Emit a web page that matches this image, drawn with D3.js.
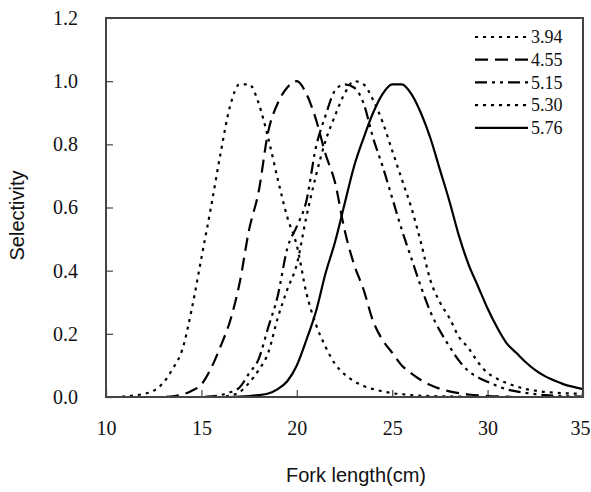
<!DOCTYPE html>
<html>
<head>
<meta charset="utf-8">
<script src="https://cdn.jsdelivr.net/npm/d3@7"></script>
<style>
  body { margin: 0; background: #fff; }
</style>
</head>
<body>
<div id="chart"></div>
<script>
// fork length (cm), 0.5 cm steps from 10 to 35
const lengths = d3.range(10, 35.01, 0.5);

const meshSizes = ['3.94', '4.55', '5.15', '5.30', '5.76'];

const sel394 = [0, 0, 0.002, 0.005, 0.01, 0.02, 0.045, 0.09, 0.15, 0.28,
  0.44, 0.6, 0.77, 0.92, 0.99, 0.99, 0.93, 0.82, 0.69, 0.57,
  0.48, 0.33, 0.23, 0.16, 0.105, 0.072, 0.05, 0.035, 0.025, 0.018,
  0.012, 0.009, 0.006, 0.004, 0.003, 0.002, 0.002, 0.001, 0.001, 0,
  0, 0, 0, 0, 0, 0, 0, 0, 0, 0, 0];
const sel455 = [0, 0, 0, 0, 0, 0, 0, 0.002, 0.008, 0.02,
  0.04, 0.09, 0.16, 0.24, 0.36, 0.53, 0.65, 0.84, 0.93, 0.98,
  1.0, 0.96, 0.88, 0.77, 0.68, 0.53, 0.42, 0.34, 0.24, 0.18,
  0.14, 0.1, 0.075, 0.054, 0.038, 0.026, 0.018, 0.012, 0.008, 0.005,
  0.003, 0.002, 0.001, 0, 0, 0, 0, 0, 0, 0, 0];
const sel515 = [0, 0, 0, 0, 0, 0, 0, 0, 0, 0,
  0, 0.002, 0.006, 0.015, 0.03, 0.075, 0.12, 0.22, 0.32, 0.47,
  0.54, 0.62, 0.79, 0.89, 0.97, 0.99, 0.98, 0.93, 0.82, 0.73,
  0.63, 0.53, 0.44, 0.35, 0.27, 0.21, 0.16, 0.115, 0.082, 0.062,
  0.048, 0.035, 0.024, 0.018, 0.013, 0.009, 0.006, 0.004, 0.003, 0.002, 0.001];
const sel530 = [0, 0, 0, 0, 0, 0, 0, 0, 0, 0,
  0, 0, 0, 0.005, 0.015, 0.045, 0.085, 0.14, 0.25, 0.34,
  0.42, 0.57, 0.7, 0.81, 0.89, 0.96, 1.0, 0.99, 0.94, 0.87,
  0.78, 0.69, 0.6, 0.49, 0.37, 0.3, 0.25, 0.19, 0.155, 0.11,
  0.076, 0.058, 0.044, 0.034, 0.025, 0.02, 0.016, 0.014, 0.012, 0.011, 0.01];
const sel576 = [0, 0, 0, 0, 0, 0, 0, 0, 0, 0,
  0, 0, 0, 0, 0.001, 0.003, 0.006, 0.011, 0.025, 0.05,
  0.1, 0.18, 0.27, 0.39, 0.49, 0.61, 0.73, 0.82, 0.9, 0.96,
  0.99, 0.99, 0.96, 0.9, 0.82, 0.72, 0.62, 0.51, 0.42, 0.35,
  0.28, 0.22, 0.17, 0.14, 0.11, 0.085, 0.066, 0.052, 0.04, 0.032, 0.025];

const xTicks = [10, 15, 20, 25, 30, 35];
const yTicks = [0, 0.2, 0.4, 0.6, 0.8, 1.0, 1.2];

const series = [sel394, sel455, sel515, sel530, sel576];
// dash pattern for each mesh size
const dashes = ['3,5', '13,7', '12,5,3,5,3,5', '3,5', null];

const serif = '"Liberation Serif", "Times New Roman", "DejaVu Serif", "Noto Serif", serif',
      sans = '"Liberation Sans", Arial, sans-serif';

const margin = {top: 18, right: 8, bottom: 95, left: 106},
      width = 591 - margin.left - margin.right,
      height = 492 - margin.top - margin.bottom;

const svg = d3.select('#chart').append('svg')
    .attr('width', 591)
    .attr('height', 492);

const g = svg.append('g')
    .attr('transform', 'translate(' + margin.left + ',' + margin.top + ')');

const x = d3.scaleLinear().domain([10, 35]).range([0, width]);
const y = d3.scaleLinear().domain([0, 1.2]).range([height, 0]);

const xAxis = d3.axisBottom(x)
    .tickValues(xTicks)
    .tickSize(-7)
    .tickPadding(24)
    .tickFormat(d3.format('d'));

const yAxis = d3.axisLeft(y)
    .tickValues(yTicks)
    .tickSize(-7)
    .tickPadding(28)
    .tickFormat(d3.format('.1f'));

function styleAxis(a) {
  a.attr('font-family', null).attr('font-size', null);
  a.select('.domain').remove();
  a.selectAll('.tick line').attr('stroke', '#444').attr('stroke-width', 1.2);
  a.selectAll('.tick text')
      .style('font-family', serif)
      .style('font-size', '20px')
      .style('fill', '#111');
}

g.append('g')
    .attr('transform', 'translate(0,' + height + ')')
    .call(xAxis)
    .call(styleAxis)
    .call(a => a.selectAll('.tick:last-of-type text').attr('dx', -3));

g.append('g')
    .call(yAxis)
    .call(styleAxis);

const line = d3.line()
    .x((d, i) => x(lengths[i]))
    .y(d => y(d))
    .curve(d3.curveMonotoneX);

g.selectAll('.curve')
    .data(series)
  .enter().append('path')
    .attr('class', 'curve')
    .attr('d', line)
    .attr('fill', 'none')
    .attr('stroke', '#000')
    .attr('stroke-width', 2.2)
    .attr('stroke-dasharray', (d, i) => dashes[i]);

// plot frame
g.append('rect')
    .attr('width', width)
    .attr('height', height)
    .attr('fill', 'none')
    .attr('stroke', '#444')
    .attr('stroke-width', 2);

// legend
const legend = svg.append('g')
    .attr('transform', 'translate(475,37)');

const rows = legend.selectAll('g')
    .data(meshSizes)
  .enter().append('g')
    .attr('transform', (d, i) => 'translate(0,' + (i * 22.7) + ')');

rows.append('line')
    .attr('x1', 0)
    .attr('x2', 53)
    .attr('stroke', '#000')
    .attr('stroke-width', 2.2)
    .attr('stroke-dasharray', (d, i) => dashes[i]);

rows.append('text')
    .attr('x', 56)
    .attr('dy', '0.35em')
    .style('font-family', serif)
    .style('font-size', '18px')
    .style('fill', '#111')
    .text(d => d);

svg.append('text')
    .attr('transform', 'translate(24,' + (margin.top + height / 2 + 8) + ') rotate(-90)')
    .attr('text-anchor', 'middle')
    .style('font-family', sans)
    .style('font-size', '20px')
    .style('fill', '#111')
    .text('Selectivity');

svg.append('text')
    .attr('x', 356)
    .attr('y', 482)
    .attr('text-anchor', 'middle')
    .style('font-family', sans)
    .style('font-size', '20px')
    .style('fill', '#111')
    .text('Fork length(cm)');
</script>
</body>
</html>
